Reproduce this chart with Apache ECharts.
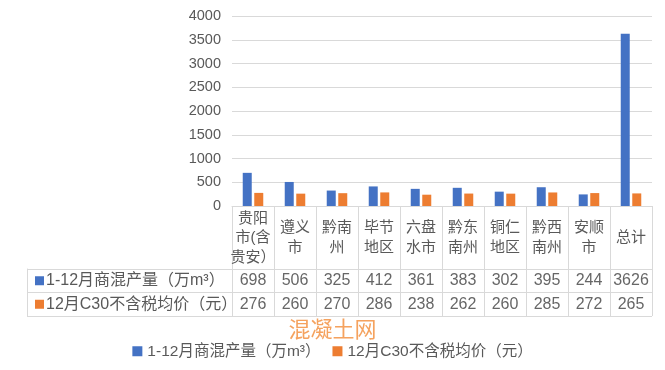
<!DOCTYPE html>
<html>
<head>
<meta charset="utf-8">
<script src="https://cdn.jsdelivr.net/npm/echarts@6/dist/echarts.min.js"></script>
<style>html,body{margin:0;padding:0;background:#fff}#c{width:665px;height:370px}</style>
</head>
<body>
<div id="c"></div>
<script>
var categories = ['贵阳\n市(含\n贵安）', '遵义\n市', '黔南\n州', '毕节\n地区', '六盘\n水市', '黔东\n南州', '铜仁\n地区', '黔西\n南州', '安顺\n市', '总计'];
var seriesNames = ['1-12月商混产量（万m³）', '12月C30不含税均价（元）'];
var production = [698, 506, 325, 412, 361, 383, 302, 395, 244, 3626];
var price = [276, 260, 270, 286, 238, 262, 260, 285, 272, 265];
var yTicks = { min: 0, max: 4000, interval: 500 };
var watermark = '混凝土网';

var FONT = 'Liberation Sans, Noto Sans CJK SC';
var GRAY = '#595959';
var LINE = '#d9d9d9';
var BLUE = '#4472C4';
var ORANGE = '#ED7D31';

var tableData = [];
production.forEach(function (v, i) { tableData.push([i, 0, v]); });
price.forEach(function (v, i) { tableData.push([i, 1, v]); });

var chart = echarts.init(document.getElementById('c'));
chart.setOption({
  animation: false,
  textStyle: { fontFamily: FONT },
  title: {
    text: watermark, left: 'center', top: 313,
    textStyle: { color: '#F5A25E', fontSize: 22, fontWeight: 'normal', fontFamily: 'Noto Sans CJK SC' }
  },
  legend: {
    data: seriesNames, bottom: 6, left: 'center',
    icon: 'rect', itemWidth: 10, itemHeight: 10, itemGap: 12,
    textStyle: { color: GRAY, fontSize: 15.5, fontFamily: FONT }
  },
  grid: [
    { left: 232, right: 13, top: 16, height: 190 },
    { left: 232, right: 13, top: 269, height: 47 }
  ],
  xAxis: [
    {
      type: 'category', data: categories, gridIndex: 0,
      axisLine: { lineStyle: { color: LINE } },
      axisTick: { show: true, length: 110, lineStyle: { color: LINE } },
      axisLabel: {
        interval: 0, color: GRAY, fontSize: 15, lineHeight: 19.5,
        verticalAlign: 'middle', margin: 32, fontFamily: FONT
      }
    },
    {
      type: 'category', data: categories, gridIndex: 1,
      axisLine: { show: false }, axisTick: { show: false }, axisLabel: { show: false }
    }
  ],
  yAxis: [
    {
      type: 'value', gridIndex: 0, min: yTicks.min, max: yTicks.max, interval: yTicks.interval,
      axisLine: { show: false }, axisTick: { show: false },
      axisLabel: { color: GRAY, fontSize: 14.5, margin: 11, fontFamily: FONT, formatter: function (v) { return String(v); } },
      splitLine: { lineStyle: { color: LINE } }
    },
    {
      type: 'category', gridIndex: 1, data: [0, 1], inverse: true, offset: 205,
      axisLine: { show: true, lineStyle: { color: LINE } },
      axisTick: { show: true, inside: true, length: 205, lineStyle: { color: LINE } },
      splitLine: { show: true, lineStyle: { color: LINE } },
      axisLabel: {
        inside: true, margin: 8, align: 'left',
        formatter: function (v) {
          return v == 0 ? '{sb| }{t|1-12月商混产量（万m³）}' : '{so| }{t|12月C30不含税均价（元）}';
        },
        rich: {
          sb: { width: 9, height: 9, backgroundColor: BLUE },
          so: { width: 9, height: 9, backgroundColor: ORANGE },
          t: { color: GRAY, fontSize: 16, padding: [0, 0, 0, 2], fontFamily: FONT }
        }
      }
    }
  ],
  series: [
    {
      name: seriesNames[0], type: 'bar', data: production, xAxisIndex: 0, yAxisIndex: 0,
      barWidth: 9, barGap: '28%', itemStyle: { color: BLUE }
    },
    {
      name: seriesNames[1], type: 'bar', data: price, xAxisIndex: 0, yAxisIndex: 0,
      barWidth: 9, barGap: '28%', itemStyle: { color: ORANGE }
    },
    {
      name: 'table', type: 'scatter', xAxisIndex: 1, yAxisIndex: 1, data: tableData, silent: true,
      symbolSize: 2, itemStyle: { color: 'rgba(0,0,0,0)' },
      label: {
        show: true, position: 'inside', color: '#404040', fontSize: 16, fontFamily: FONT,
        formatter: function (p) { return String(p.value[2]); }
      }
    }
  ]
});
</script>
</body>
</html>
